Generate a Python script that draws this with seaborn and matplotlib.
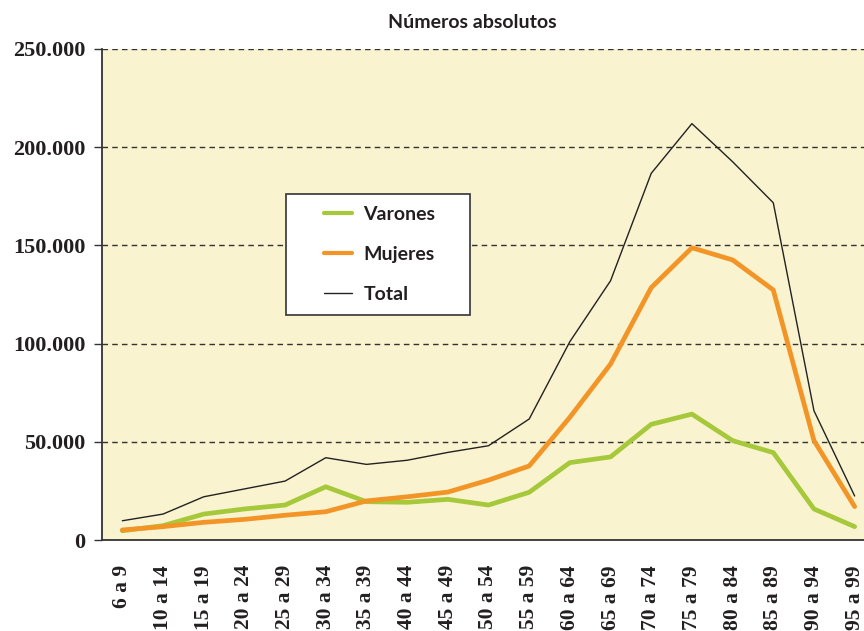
import numpy as np
import pandas as pd
import matplotlib
matplotlib.use("Agg")
import matplotlib.pyplot as plt
import seaborn as sns
from matplotlib.ticker import FuncFormatter, FixedLocator
from matplotlib.patches import Rectangle

# age groups
grupos = ['6 a 9', '10 a 14', '15 a 19', '20 a 24', '25 a 29', '30 a 34',
          '35 a 39', '40 a 44', '45 a 49', '50 a 54', '55 a 59', '60 a 64',
          '65 a 69', '70 a 74', '75 a 79', '80 a 84', '85 a 89', '90 a 94',
          '95 a 99']

varones = [4700, 7300, 13200, 15800, 17800, 27100, 19500, 19200, 20700, 17800,
           24300, 39400, 42300, 58900, 64100, 50600, 44500, 15800, 6800]
mujeres = [5100, 6800, 9000, 10500, 12600, 14400, 19900, 22000, 24400, 30500,
           37700, 62500, 89600, 128500, 148800, 142600, 127300, 50600, 17000]
total = [9800, 13200, 22000, 26000, 30000, 41900, 38500, 40600, 44600, 48000,
         61600, 101000, 132000, 186700, 212000, 192600, 171700, 65800, 22400]

df = pd.DataFrame({'pos': np.arange(len(grupos)),
                   'Varones': varones, 'Mujeres': mujeres, 'Total': total})

sns.set_style("white")
serif = 'Liberation Serif'
sans = 'Lato'

W, H = 864, 631
fig = plt.figure(figsize=(8.64, 6.31), dpi=100)
ax = fig.add_axes([102 / W, 91 / H, 773 / W, 491 / H])
ax.set_facecolor('#faf3cf')

sns.lineplot(data=df, x='pos', y='Varones', ax=ax, color='#a5c93a',
             linewidth=3.4, label='Varones')
sns.lineplot(data=df, x='pos', y='Mujeres', ax=ax, color='#f39426',
             linewidth=3.4, label='Mujeres')
sns.lineplot(data=df, x='pos', y='Total', ax=ax, color='#222222',
             linewidth=1.0, label='Total')

ax.set_xlim(-0.5, len(grupos) - 0.5)
ax.set_ylim(0, 250000)
ax.set_xlabel('')
ax.set_ylabel('')

# dashed gridlines
for v in [50000, 100000, 150000, 200000, 250000]:
    ax.axhline(v, color='#333333', linestyle=(0, (4, 3)), linewidth=1.0, zorder=0.5)

ax.set_yticks([0, 50000, 100000, 150000, 200000, 250000])
ax.yaxis.set_major_formatter(FuncFormatter(lambda v, p: '0' if v == 0 else f'{int(v):,}'.replace(',', '.')))
ax.set_xticks(np.arange(len(grupos)))
ax.set_xticklabels(grupos, rotation=90)
ax.xaxis.set_minor_locator(FixedLocator(np.arange(-0.5, len(grupos), 1.0)))
ax.tick_params(axis='x', which='major', length=0, pad=18)
ax.tick_params(axis='x', which='minor', length=6, width=1, color='#333333', direction='out')
ax.tick_params(axis='y', length=6, width=1, color='#333333', direction='out', left=True, pad=6)
for lbl in ax.get_xticklabels() + ax.get_yticklabels():
    lbl.set_fontfamily(serif)
    lbl.set_fontweight('bold')
    lbl.set_color('#231f20')
for lbl in ax.get_xticklabels():
    lbl.set_fontsize(15.5)
for lbl in ax.get_yticklabels():
    lbl.set_fontsize(16)

for s in ['top', 'right']:
    ax.spines[s].set_visible(False)
for s in ['left', 'bottom']:
    ax.spines[s].set_color('#333333')
    ax.spines[s].set_linewidth(1.3)

# legend box drawn separately (wider horizontal padding than matplotlib gives)
bx0, by0, bx1, by1 = 286, 194, 470, 315
ax.add_patch(Rectangle(((bx0 - 102) / 773, (540 - by1) / 491),
                       (bx1 - bx0) / 773, (by1 - by0) / 491,
                       transform=ax.transAxes, facecolor='white',
                       edgecolor='#333333', linewidth=1.2, zorder=4))
leg = ax.legend(loc='upper left', bbox_to_anchor=((307 - 102) / 773, (540 - 188) / 491),
                frameon=False, handlelength=1.4, handletextpad=0.6,
                labelspacing=1.2, borderpad=0.4,
                prop={'family': sans, 'weight': 'bold', 'size': 14})
leg.set_zorder(5)
for h in leg.get_lines():
    if h.get_linewidth() > 2:
        h.set_linewidth(3)
for t in leg.get_texts():
    t.set_color('#231f20')

fig.text(472 / W, 1 - 22 / H, 'Números absolutos', ha='center', va='center',
         fontfamily=sans, fontweight='bold', fontsize=14, color='#231f20')

fig.savefig('out.png', dpi=100, facecolor='white')
